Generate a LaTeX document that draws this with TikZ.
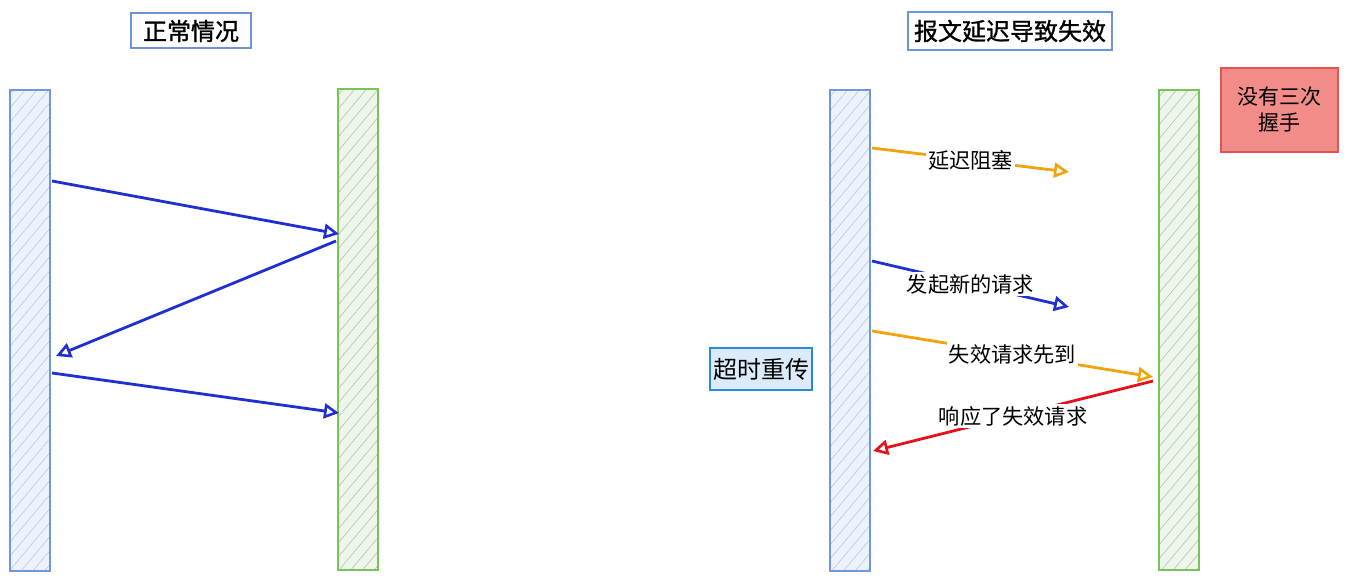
\documentclass[tikz,border=0pt]{standalone}
\usepackage{fontspec}
\newfontfamily\cjk{Noto Sans CJK SC}
\newfontfamily\cjkb[FakeBold=1.2]{Noto Sans CJK SC}
\usetikzlibrary{arrows.meta,patterns.meta}
\definecolor{bbar}{HTML}{7096DE}
\definecolor{bfill}{HTML}{EDF3FC}
\definecolor{bhatch}{HTML}{B3C7E8}
\definecolor{gbar}{HTML}{79C457}
\definecolor{gfill}{HTML}{EEF6EB}
\definecolor{ghatch}{HTML}{AFC4A8}
\definecolor{arrblue}{HTML}{2030D0}
\definecolor{arrorange}{HTML}{F0A30A}
\definecolor{arrred}{HTML}{E8101A}
\definecolor{tborder}{HTML}{6C94D8}
\definecolor{rfill}{HTML}{F28C88}
\definecolor{rborder}{HTML}{E05550}
\definecolor{cborder}{HTML}{2A8AD8}
\definecolor{cfill}{HTML}{DCEBF9}
\begin{document}
\begin{tikzpicture}[x=0.5pt,y=-0.5pt,
  bluebar/.style={draw=bbar,line width=1pt,minimum width=20pt,minimum height=240pt,inner sep=0pt,
    preaction={fill=bfill},pattern={Lines[angle=50,distance=4.5pt,line width=0.3pt]},pattern color=bhatch},
  greenbar/.style={draw=gbar,line width=1pt,minimum width=20pt,minimum height=240pt,inner sep=0pt,
    preaction={fill=gfill},pattern={Lines[angle=50,distance=4.5pt,line width=0.3pt]},pattern color=ghatch},
  titlebox/.style={draw=tborder,line width=1pt,fill=white,inner sep=0pt,font=\cjkb\fontsize{12}{14}\selectfont},
  lbl/.style={fill=white,text=black,inner sep=1pt,font=\cjk\fontsize{10.6}{13}\selectfont},
  arr/.style={line width=1.4pt,-{Triangle[open,length=7.5pt,width=7.5pt,line width=1.3pt]}}
]
\useasboundingbox (0,0) rectangle (1352,582);
% left diagram
\node[titlebox,minimum width=60pt,minimum height=17.5pt] (t1) at (191,31) {正常情况};
\node[bluebar] (L1) at (30,330.5) {};
\node[greenbar] (L2) at (358,329.5) {};
\coordinate (a1s) at (52,181);
\coordinate (a1e) at (339,234);
\coordinate (a2s) at (336,241);
\coordinate (a2e) at (56,356);
\coordinate (a3s) at (52,373);
\coordinate (a3e) at (339,413);
\draw[arr,arrblue] (a1s) -- (a1e);
\draw[arr,arrblue] (a2s) -- (a2e);
\draw[arr,arrblue] (a3s) -- (a3e);
% right diagram
\node[titlebox,minimum width=102pt,minimum height=19pt] (t2) at (1010,31) {报文延迟导致失效};
\node[bluebar] (R1) at (849.5,330.5) {};
\node[greenbar] (R2) at (1178.5,330) {};
\node[draw=rborder,line width=0.8pt,fill=rfill,minimum width=58.5pt,minimum height=42pt,inner sep=0pt,
  align=center,font=\cjk\fontsize{10.5}{13}\selectfont] (hs) at (1279.5,110) {没有三次\\握手};
\node[draw=cborder,line width=1.2pt,fill=cfill,minimum width=51pt,minimum height=21pt,inner sep=0pt,
  font=\cjk\fontsize{12}{14}\selectfont] (cs) at (761,369) {超时重传};
\coordinate (b1s) at (872,148);
\coordinate (b1e) at (1069,172);
\coordinate (b2s) at (872,261);
\coordinate (b2e) at (1069,307);
\coordinate (b3s) at (872,331);
\coordinate (b3e) at (1153,377);
\coordinate (b4s) at (1153,381);
\coordinate (b4e) at (873,451);
\draw[arr,arrorange] (b1s) -- (b1e) node[lbl,pos=0.5] (l1) {延迟阻塞};
\draw[arr,arrblue] (b2s) -- (b2e) node[lbl,pos=0.5] (l2) {发起新的请求};
\draw[arr,arrorange] (b3s) -- (b3e) node[lbl,pos=0.5] (l3) {失效请求先到};
\draw[arr,arrred] (b4s) -- (b4e) node[lbl,pos=0.5] (l4) {响应了失效请求};
\end{tikzpicture}
\end{document}
